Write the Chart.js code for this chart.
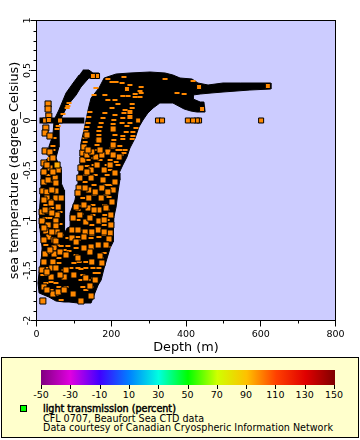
<!DOCTYPE html>
<html>
<head>
<meta charset="utf-8">
<script src="https://cdn.jsdelivr.net/npm/chart.js@4"></script>
<style>
  body { margin: 0; background: #fff; font-family: "DejaVu Sans", sans-serif; }
  #wrap { position: relative; width: 360px; height: 440px; overflow: hidden; }
  canvas { position: absolute; left: 0; top: 0; }
  #legend { position: absolute; left: 1px; top: 357px; width: 356px; height: 79px; background: #ffffcc; border: 1px solid #000; }
  #bar { position: absolute; left: 39px; top: 12px; width: 294px; height: 15px; }
  .tick { position: absolute; top: 27px; width: 1px; height: 4px; background: #000; }
  .lab { position: absolute; top: 31px; width: 40px; margin-left: -20px; text-align: center; font-size: 9.5px; line-height: 12px; color: #000; }
  #swatch { position: absolute; left: 18px; top: 47px; width: 5px; height: 5px; background: #00ff00; border: 1px solid #000; }
  .txt { position: absolute; left: 41px; font-size: 9.6px; line-height: 11px; white-space: nowrap; color: #000; }
</style>
</head>
<body>
<div id="wrap">
  <canvas id="chartCanvas" width="360" height="357"></canvas>
  <div id="legend">
    <div id="bar"></div>
    <div id="swatch"></div>
    <div class="txt" style="top:45px;-webkit-text-stroke:.45px #000">light transmission (percent)</div>
    <div class="txt" style="top:55px">CFL 0707, Beaufort Sea CTD data</div>
    <div class="txt" style="top:64px">Data courtesy of Canadian Cryospheric Information Network</div>
  </div>
</div>
<script>
// outline of the solid overplotted mass
const hullDepth = [124,140,151,167,167,140,119,106,84,66,58,60,60,52,58,66,66,74,74,76,82,90,90,103,111,114,119,119,127,138,146,167,181,213,250,304,344,365,384,416,432,459,499,545,627,627,571,499,467,438,419,419,438,448,451,429,413,395,365,330,312,298,285,274,264,250,242,231,221,223,218,213,207,205,205,197,189,181,173,165,154,146,111,87,74,52,33,7,4,7,12,15,9,7,9,12,12,25,31,33,44,47,60,79,98,114];
const hullTemp = [.505,.505,.475,.475,.425,.425,.335,.255,.155,.025,-.045,-.145,-.265,-.375,-.425,-.495,-.625,-.695,-.865,-1.125,-1.075,-1.065,-.925,-.795,-.625,-.495,-.365,-.225,-.095,.105,.225,.325,.425,.465,.475,.485,.475,.455,.425,.415,.375,.355,.375,.375,.375,.315,.305,.285,.275,.265,.255,.215,.185,.185,.085,.085,.095,.115,.175,.175,.125,.075,.005,-.065,-.175,-.275,-.365,-.445,-.525,-.595,-.715,-.865,-.965,-1.065,-1.215,-1.275,-1.375,-1.475,-1.595,-1.645,-1.745,-1.825,-1.825,-1.815,-1.815,-1.805,-1.765,-1.725,-1.625,-1.515,-1.415,-1.275,-1.075,-.995,-.895,-.695,-.515,-.395,-.375,-.265,-.145,.005,.105,.275,.375,.455];

// run of samples sitting at zero near the surface
const surfaceDepth = [8, 128];
const surfaceTemp = [0, 0];

// isolated markers, and the ones out on the deep tail
const loneDepth = [272,325,336,435,429,419,405,601,63,23,33,619,435,443,242,162,151];
const loneTemp = [0,0,0,0,0,0,0,0,0,0,.005,.345,.335,.115,.315,.445,.445];

// markers on top of the dense part of the cloud
const squareDepth = [31,31,33,25,23,36,23,20,36,20,58,50,20,52,17,28,52,28,52,66,58,15,31,55,15,52,31,52,25,55,33,47,52,47,23,47,20,44,41,52,39,74,20,44,17,98,119,146,
  95,98,95,106,
  124,124,119,116,114,111,132,130,127,146,146,140,140,138,178,175,173,167,167,165,210,210,205,202,199,199,197,194,191,159,221,205,127,146,143,175,
  36,44,28,44,31,41,20,39,23,41,20,41,63,20,36,63,15,28,63,28,58,
  135,148,175,205,135,162,181,197,130,157,191,127,154,186,116,143,181,111,148,181,106,127,165,186,79,111,148,170,79,100,132,157,74,143,
  135,167,138,170,205];
const squareTemp = [.165,.115,.045,-.075,-.125,-.155,-.305,-.425,-.475,-.515,-.495,-.575,-.615,-.625,-.705,-.715,-.705,-.775,-.775,-.775,-.865,-.915,-.905,-.945,-1.005,-1.005,-1.045,-1.055,-1.105,-1.115,-1.165,-1.195,-1.205,-1.275,-1.335,-1.335,-1.415,-1.415,-1.475,-1.475,-1.565,-1.565,-1.665,-1.735,-1.805,-1.735,-1.805,-1.755,
  -1.095,-.975,-1.175,-.865,
  -.325,-.395,-.475,-.575,-.675,-.725,-1.015,-1.115,-1.165,-.495,-.575,-.695,-.775,-.875,-.595,-.675,-.775,-.895,-1.005,-1.095,-.525,-.615,-.695,-.815,-.945,-1.045,-1.125,-1.185,-.315,-.365,-.365,-.085,-.265,-1.265,-1.315,-1.425,
  -.315,-.375,-.445,-.515,-.595,-.695,-.795,-.825,-.895,-.925,-1.075,-1.115,-1.145,-1.195,-1.295,-1.315,-1.495,-1.515,-1.545,-1.695,-1.715,
  -.345,-.315,-.345,-.345,-.515,-.445,-.495,-.445,-.675,-.715,-.715,-.845,-.895,-.875,-.945,-.975,-.995,-1.095,-1.115,-1.115,-1.215,-1.275,-1.245,-1.245,-1.345,-1.375,-1.415,-1.355,-1.495,-1.545,-1.575,-1.595,-1.695,-1.655,
  -.145,-.195,-.295,-.295,-.245];

// the one yellower marker
const yellowDepth = [55];
const yellowTemp = [-.445];

// markers mostly hidden by later ones, only a sliver left
const sliverDepth = [87,84,82,71,58,55,47,44,44,39,36,
  143,140,138,135,132,132,130,130,154,159,
  170,167,167,165,162,162,183,178,173,
  210,207,205,210,207,205,202,
  234,250,280,277,280,264,231,245,264,277,256,256,250,250,250,250,237,234,231,250,229,242,266,240,258,231,258,256,231,223,237,234,223,226,
  191,213,229,202,344,419,376,395,183,210,218,202,191,
  36,44,31,36,36,41,25,41,36,23,63,63,
  138,135,132,130,127,124,119,119,154,154,157,154,154,151,151,148,148,170,189,189,186,186,183,183,181,181,218,218,213,197,197,197,194,189,189,111,111,114,111,
  66,84,74,87,106,106,114,100,111,92,74,119,132,132,151,157,154,124,119,138,124,146,132,39,52,25,60,39,52,66,79,181,173,167,165,191,186,146,167,178,66,84,111,25,31,31,17,25,60,60,55];
const sliverTemp = [.175,.145,.125,.065,-.055,-.085,-.175,-.255,-.295,-.345,-.375,
  .085,.035,-.025,-.065,-.105,-.145,-.175,-.215,.255,.325,
  -.065,-.105,-.145,-.195,-.245,-.295,.075,.025,-.025,
  .055,.005,-.035,-.145,-.195,-.245,-.275,
  .435,.355,.335,.295,.275,.265,.245,.245,.235,.235,.165,.125,.095,.075,.045,.025,.105,.075,.025,-.025,-.025,-.055,-.075,-.115,-.115,-.155,-.155,-.185,-.185,-.255,-.295,-.325,-.295,-.345,
  .415,.385,.375,.385,.415,.395,.275,.265,.255,.205,.165,.125,.205,
  -.395,-.395,-.545,-.615,-.695,-.795,-.845,-.875,-.975,-.975,-.915,-1.035,
  -.395,-.455,-.545,-.615,-.695,-.775,-.855,-.935,-.375,-.445,-.545,-.645,-.745,-.845,-.945,-1.045,-1.145,-.395,-.445,-.545,-.645,-.745,-.845,-.945,-1.045,-1.145,-.445,-.295,-.415,-.395,-.495,-.645,-.765,-.895,-.995,-.895,-.995,-1.095,-1.195,
  -1.255,-1.255,-1.295,-1.305,-1.275,-1.345,-1.415,-1.425,-1.475,-1.475,-1.495,-1.485,-1.415,-1.475,-1.475,-1.525,-1.575,-1.545,-1.595,-1.595,-1.665,-1.665,-1.695,-1.615,-1.625,-1.625,-1.665,-1.695,-1.745,-1.795,-1.665,-1.325,-1.375,-1.475,-1.525,-1.265,-1.225,-1.175,-1.165,-1.095,-1.145,-1.175,-1.165,-1.245,-1.325,-1.475,-1.545,-1.545,-1.425,-1.375,-1.245];

const xMinorTicks = [100, 300, 500, 700];
const yMinorTicks = [.9,.8,.7,.6,.4,.3,.2,.1,-.1,-.2,-.3,-.4,-.6,-.7,-.8,-.9,-1.1,-1.2,-1.3,-1.4,-1.6,-1.7,-1.8,-1.9];

const barLabels = ['-50','-30','-10','10','30','50','70','90','110','130','150'];
const barColors = ['#800080','#e000e0','#4000ff','#0080ff','#00ffe0','#00ff00','#d0ff00','#ffc000','#ff4000','#e00000','#800000'];

const zip = (xs, ys) => xs.map((x, i) => ({ x: x, y: ys[i] }));

// colour bar in the legend box
const bar = document.getElementById('bar');
bar.style.background = 'linear-gradient(to right,' + barColors.join(',') + ')';
const legend = document.getElementById('legend');
barLabels.forEach((label, i) => {
  const x = 39 + i * 29.3;
  const tick = document.createElement('div');
  tick.className = 'tick';
  tick.style.left = x + 'px';
  legend.appendChild(tick);
  const lab = document.createElement('div');
  lab.className = 'lab';
  lab.style.left = x + 'px';
  lab.textContent = label;
  legend.appendChild(lab);
});

const framePlugin = {
  id: 'frame',
  beforeDraw(chart) {
    const a = chart.chartArea;
    chart.ctx.fillStyle = '#ccccff';
    chart.ctx.fillRect(a.left, a.top, a.width, a.height);
  },
  afterDraw(chart) {
    const ctx = chart.ctx, a = chart.chartArea;
    ctx.save();
    ctx.strokeStyle = '#000';
    ctx.lineWidth = 1;
    ctx.strokeRect(a.left, a.top, a.width, a.height);
    ctx.beginPath();
    xMinorTicks.forEach(v => {
      const p = Math.round(chart.scales.x.getPixelForValue(v)) + .5;
      ctx.moveTo(p, a.bottom);
      ctx.lineTo(p, a.bottom + 3);
    });
    yMinorTicks.forEach(v => {
      const p = Math.round(chart.scales.y.getPixelForValue(v)) + .5;
      ctx.moveTo(a.left, p);
      ctx.lineTo(a.left - 3, p);
    });
    ctx.stroke();
    ctx.restore();
  }
};

Chart.defaults.font.family = '"DejaVu Sans", sans-serif';
Chart.defaults.color = '#000';

const squareStyle = { pointStyle: 'rect', pointBorderWidth: 1, pointBorderColor: '#000', showLine: false };

new Chart(document.getElementById('chartCanvas').getContext('2d'), {
  type: 'scatter',
  data: {
    datasets: [
      { label: 'yellow', data: zip(yellowDepth, yellowTemp), pointBackgroundColor: '#ffaa00', pointRadius: 4.3, ...squareStyle },
      { label: 'lone', data: zip(loneDepth, loneTemp), pointBackgroundColor: '#ff8800', pointRadius: 3.55, ...squareStyle },
      { label: 'squares', data: zip(squareDepth, squareTemp), pointBackgroundColor: '#ff8800', pointRadius: 4.3, ...squareStyle },
      { label: 'slivers', data: zip(sliverDepth, sliverTemp), pointStyle: 'line', pointRadius: 2.5, pointBorderWidth: 2, pointBorderColor: '#ff8800', showLine: false },
      { label: 'surface', data: zip(surfaceDepth, surfaceTemp), showLine: true, borderColor: '#000', borderWidth: 6, pointRadius: 0 },
      { label: 'mass', data: zip(hullDepth, hullTemp), showLine: true, borderColor: '#000', borderWidth: 1, backgroundColor: '#000', fill: 'shape', pointRadius: 0 }
    ]
  },
  options: {
    responsive: false,
    animation: false,
    layout: { padding: { top: 20.5, right: 24.5, left: 0, bottom: 0 } },
    plugins: { legend: { display: false }, tooltip: { enabled: false } },
    scales: {
      x: {
        type: 'linear', min: 0, max: 800,
        afterFit(scale) { scale.height = 36.5; },
        grid: { drawOnChartArea: false, tickLength: 6, color: '#000' },
        border: { color: '#000' },
        ticks: { stepSize: 200, padding: 2, maxRotation: 0, font: { size: 9.5 } },
        title: { display: true, text: 'Depth (m)', font: { size: 12.8 }, padding: 2 }
      },
      y: {
        type: 'linear', min: -2, max: 1,
        afterFit(scale) { scale.width = 36.5; },
        grid: { drawOnChartArea: false, tickLength: 6, color: '#000' },
        border: { color: '#000' },
        ticks: { stepSize: .5, minRotation: 90, maxRotation: 90, crossAlign: 'center', padding: -6.5, font: { size: 9.5 }, callback: v => String(v) },
        title: { display: true, text: 'sea temperature (degree_Celsius)', font: { size: 12.8 }, padding: { top: 7, bottom: 0 } }
      }
    }
  },
  plugins: [framePlugin]
});
</script>
</body>
</html>
